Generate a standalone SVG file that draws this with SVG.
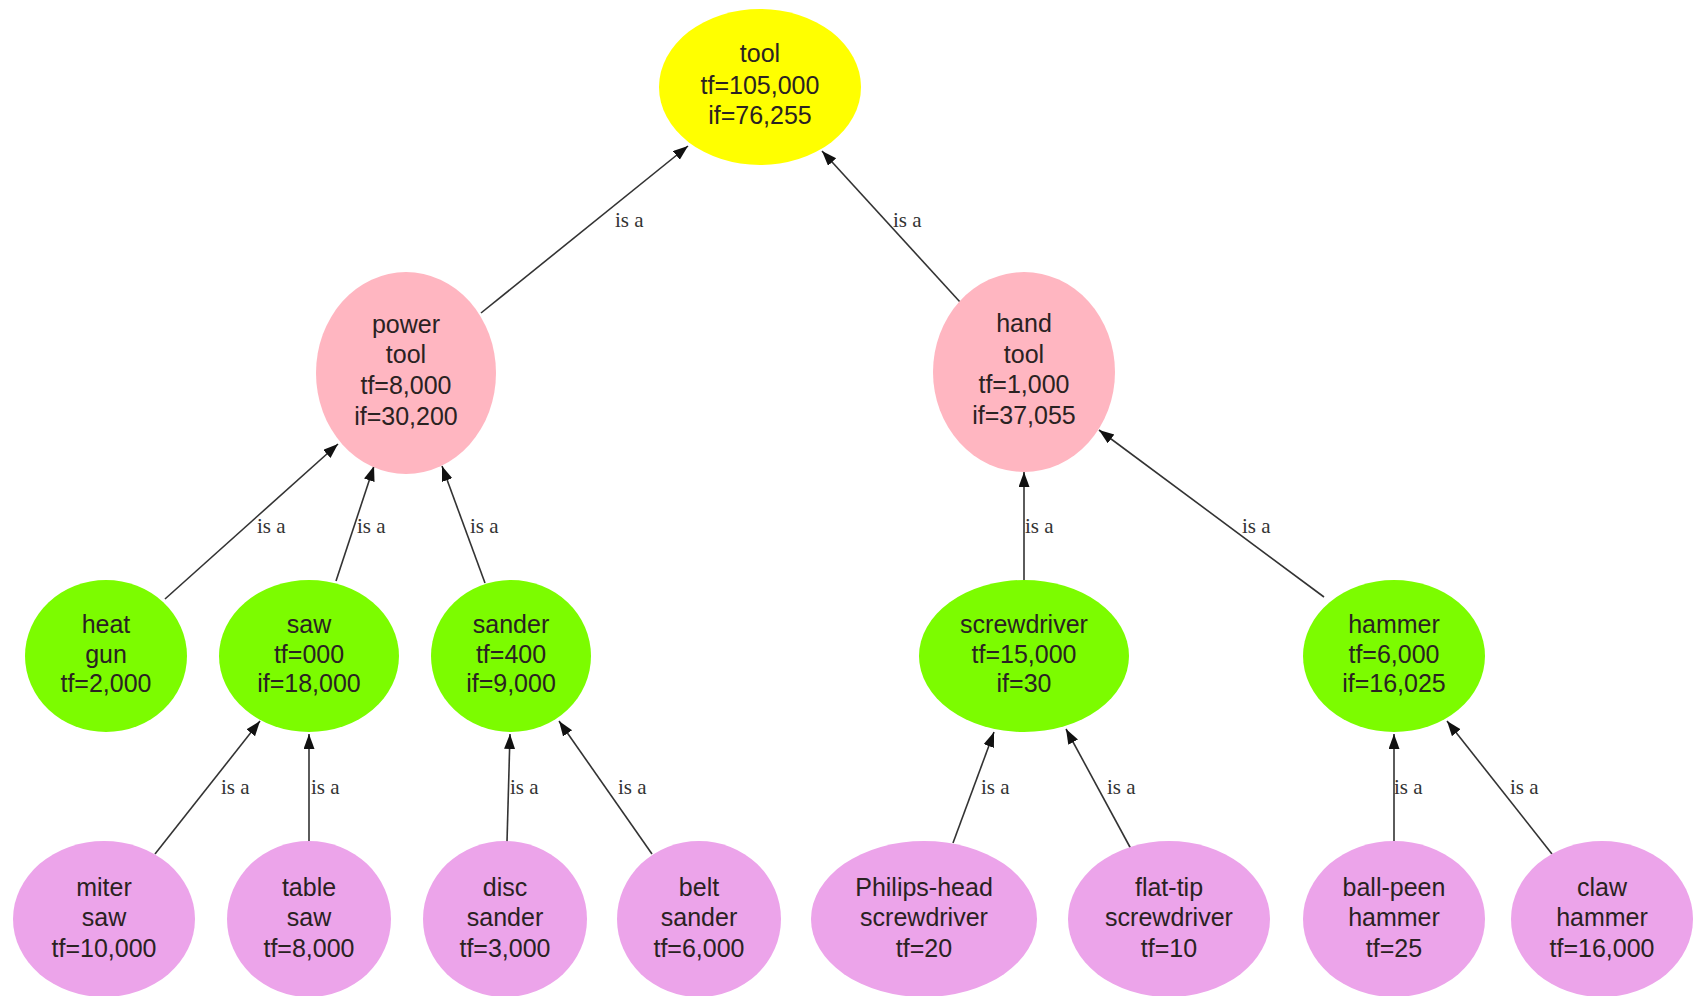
<svg xmlns="http://www.w3.org/2000/svg" width="1702" height="996" viewBox="0 0 1702 996">
<defs>
<style>
.n text{font-family:"Liberation Sans",Arial,sans-serif;font-size:25px;fill:#2a2222;text-anchor:middle}
.yel{fill:#ffff00}
.pink{fill:#ffb6c1}
.green{fill:#7cfc00}
.vio{fill:#eca4ea}
.e line{stroke:#333;stroke-width:1.6;marker-end:url(#ah)}
.e text{font-family:"Liberation Serif","Times New Roman",serif;font-size:21px;fill:#333}
</style>
<marker id="ah" markerUnits="userSpaceOnUse" markerWidth="16" markerHeight="12" refX="15" refY="5.5" orient="auto">
<path d="M0,0 L15,5.5 L0,11 z" fill="#111"/>
</marker>
</defs>
<rect width="1702" height="996" fill="#fff"/>

<g id="connectors" class="e">
<line x1="481" y1="313" x2="688" y2="146"/>
<line x1="960" y1="302" x2="822" y2="151"/>
<line x1="165" y1="599" x2="338" y2="444"/>
<line x1="336" y1="581" x2="374" y2="466"/>
<line x1="485" y1="583" x2="442" y2="466"/>
<line x1="1024" y1="581" x2="1024" y2="472"/>
<line x1="1324" y1="597" x2="1099" y2="430"/>
<line x1="155" y1="854" x2="260" y2="721"/>
<line x1="309" y1="842" x2="309" y2="734"/>
<line x1="507" y1="842" x2="510" y2="734"/>
<line x1="652" y1="854" x2="559" y2="721"/>
<line x1="953" y1="843" x2="994" y2="732"/>
<line x1="1131" y1="849" x2="1066" y2="729"/>
<line x1="1394" y1="842" x2="1394" y2="734"/>
<line x1="1552" y1="854" x2="1447" y2="721"/>
<text x="615" y="227">is a</text>
<text x="893" y="227">is a</text>
<text x="257" y="533">is a</text>
<text x="357" y="533">is a</text>
<text x="470" y="533">is a</text>
<text x="1025" y="533">is a</text>
<text x="1242" y="533">is a</text>
<text x="221" y="794">is a</text>
<text x="311" y="794">is a</text>
<text x="510" y="794">is a</text>
<text x="618" y="794">is a</text>
<text x="981" y="794">is a</text>
<text x="1107" y="794">is a</text>
<text x="1394" y="794">is a</text>
<text x="1510" y="794">is a</text>
</g>

<g id="tool" class="n"><ellipse class="yel" cx="760" cy="87" rx="101" ry="78"/>
<text x="760" y="62">tool</text><text x="760" y="94">tf=105,000</text><text x="760" y="124">if=76,255</text></g>

<g id="power_tool" class="n"><ellipse class="pink" cx="406" cy="373" rx="90" ry="101"/>
<text x="406" y="333">power</text><text x="406" y="363">tool</text><text x="406" y="394">tf=8,000</text><text x="406" y="425">if=30,200</text></g>

<g id="hand_tool" class="n"><ellipse class="pink" cx="1024" cy="372" rx="91" ry="100"/>
<text x="1024" y="332">hand</text><text x="1024" y="363">tool</text><text x="1024" y="393">tf=1,000</text><text x="1024" y="424">if=37,055</text></g>

<g id="heat_gun" class="n"><ellipse class="green" cx="106" cy="656" rx="81" ry="76"/>
<text x="106" y="633">heat</text><text x="106" y="663">gun</text><text x="106" y="692">tf=2,000</text></g>

<g id="saw" class="n"><ellipse class="green" cx="309" cy="656" rx="90" ry="76"/>
<text x="309" y="633">saw</text><text x="309" y="663">tf=000</text><text x="309" y="692">if=18,000</text></g>

<g id="sander" class="n"><ellipse class="green" cx="511" cy="656" rx="80" ry="76"/>
<text x="511" y="633">sander</text><text x="511" y="663">tf=400</text><text x="511" y="692">if=9,000</text></g>

<g id="screwdriver" class="n"><ellipse class="green" cx="1024" cy="656" rx="105" ry="76"/>
<text x="1024" y="633">screwdriver</text><text x="1024" y="663">tf=15,000</text><text x="1024" y="692">if=30</text></g>

<g id="hammer" class="n"><ellipse class="green" cx="1394" cy="656" rx="91" ry="76"/>
<text x="1394" y="633">hammer</text><text x="1394" y="663">tf=6,000</text><text x="1394" y="692">if=16,025</text></g>

<g id="miter_saw" class="n"><ellipse class="vio" cx="104" cy="919" rx="91" ry="78"/>
<text x="104" y="896">miter</text><text x="104" y="926">saw</text><text x="104" y="957">tf=10,000</text></g>

<g id="table_saw" class="n"><ellipse class="vio" cx="309" cy="919" rx="82" ry="78"/>
<text x="309" y="896">table</text><text x="309" y="926">saw</text><text x="309" y="957">tf=8,000</text></g>

<g id="disc_sander" class="n"><ellipse class="vio" cx="505" cy="919" rx="82" ry="78"/>
<text x="505" y="896">disc</text><text x="505" y="926">sander</text><text x="505" y="957">tf=3,000</text></g>

<g id="belt_sander" class="n"><ellipse class="vio" cx="699" cy="919" rx="82" ry="78"/>
<text x="699" y="896">belt</text><text x="699" y="926">sander</text><text x="699" y="957">tf=6,000</text></g>

<g id="philips_head_screwdriver" class="n"><ellipse class="vio" cx="924" cy="919" rx="113" ry="78"/>
<text x="924" y="896">Philips-head</text><text x="924" y="926">screwdriver</text><text x="924" y="957">tf=20</text></g>

<g id="flat_tip_screwdriver" class="n"><ellipse class="vio" cx="1169" cy="919" rx="101" ry="78"/>
<text x="1169" y="896">flat-tip</text><text x="1169" y="926">screwdriver</text><text x="1169" y="957">tf=10</text></g>

<g id="ball_peen_hammer" class="n"><ellipse class="vio" cx="1394" cy="919" rx="91" ry="78"/>
<text x="1394" y="896">ball-peen</text><text x="1394" y="926">hammer</text><text x="1394" y="957">tf=25</text></g>

<g id="claw_hammer" class="n"><ellipse class="vio" cx="1602" cy="919" rx="91" ry="78"/>
<text x="1602" y="896">claw</text><text x="1602" y="926">hammer</text><text x="1602" y="957">tf=16,000</text></g>
</svg>
